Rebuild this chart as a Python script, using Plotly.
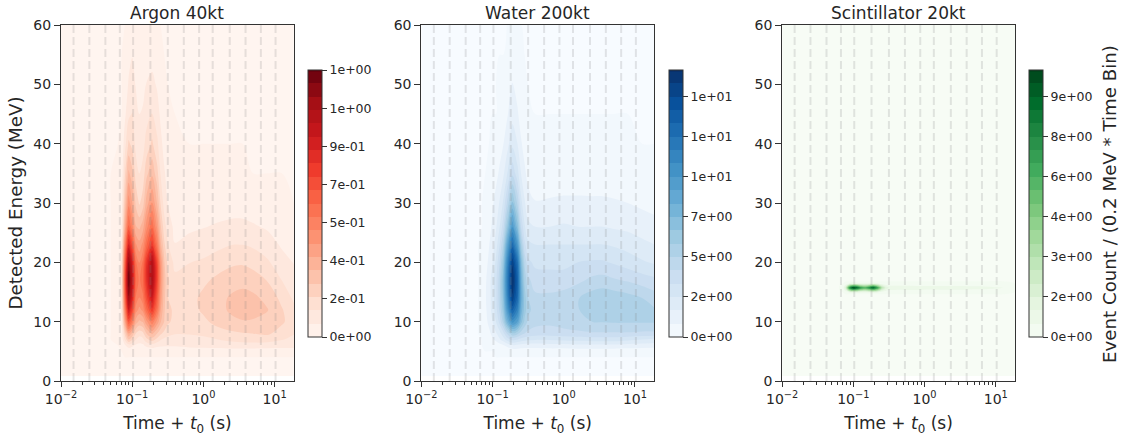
import plotly.graph_objects as go

time_s = [0.01, 0.05, 0.063, 0.071, 0.079, 0.089, 0.1, 0.112, 0.126, 0.141, 0.158, 0.19, 0.224, 0.251, 0.282, 0.316,
          0.398, 0.631, 1.0, 1.58, 2.51, 3.55, 5.0, 7.94, 12.6, 18.6]
bin_edges = [0.015, 0.025, 0.042, 0.067, 0.103, 0.18, 0.316, 0.53, 0.87, 1.35, 2.34, 3.9, 6.4, 10.3]

energy_main = [0.8, 4, 5, 6, 7, 8, 10, 12, 14, 17, 20, 23, 26, 30, 35, 40, 45, 50, 55, 60]
energy_scint = [0.8, 14.6, 15, 15.4, 15.7, 16, 16.4, 16.8, 60]

argon = [
    [0] * 26,
    [0] * 26,
    [0, 0, 0, 0, .005, .01, .01, .01, .01, .01, .01, .015, .015, .015, .02, .02, .025, .03, .03, .03, .03, .03, .03, .03, .03, .03],
    [0, 0, 0, .01, .055, .1, .08, .05, .04, .05, .08, .1, .08, .075, .07, .07, .07, .08, .085, .09, .1, .1, .1, .095, .09, .09],
    [0, 0, .002, .02, .14, .25, .2, .13, .1, .11, .17, .22, .17, .13, .11, .1, .1, .105, .11, .125, .14, .15, .155, .155, .13, .11],
    [0, 0, .004, .03, .21, .38, .3, .19, .15, .17, .25, .33, .25, .2, .17, .15, .13, .13, .14, .16, .175, .185, .19, .2, .16, .13],
    [0, 0, .007, .055, .38, .7, .56, .35, .3, .32, .42, .55, .42, .32, .25, .2, .17, .15, .175, .21, .24, .248, .245, .235, .2, .155],
    [0, 0, .01, .075, .52, .95, .76, .48, .42, .46, .61, .8, .58, .38, .26, .2, .18, .165, .2, .235, .262, .275, .275, .255, .195, .14],
    [0, 0, .01, .09, .62, 1.12, .9, .56, .5, .55, .72, .95, .67, .42, .27, .19, .17, .165, .205, .235, .26, .27, .265, .235, .17, .115],
    [0, 0, .012, .1, .69, 1.25, 1.0, .63, .55, .62, .82, 1.08, .76, .46, .28, .2, .14, .14, .175, .205, .23, .235, .22, .185, .125, .085],
    [0, 0, .01, .09, .63, 1.15, .92, .58, .5, .58, .8, 1.05, .74, .44, .26, .17, .11, .125, .135, .155, .175, .18, .165, .135, .085, .06],
    [0, 0, .008, .07, .5, .9, .72, .45, .4, .46, .61, .8, .56, .33, .2, .13, .065, .085, .095, .11, .125, .125, .115, .09, .055, .04],
    [0, 0, .005, .05, .36, .65, .52, .32, .3, .35, .47, .62, .43, .26, .15, .1, .045, .05, .06, .07, .08, .08, .07, .055, .03, .02],
    [0, 0, .003, .035, .26, .48, .38, .24, .18, .22, .34, .45, .31, .18, .1, .06, .02, .02, .025, .03, .03, .03, .025, .02, .005, 0],
    [0, 0, .002, .02, .18, .33, .27, .16, .126, .15, .23, .3, .21, .12, .07, .04, .01, .005, .005, .005, .005, .005, 0, 0, 0, 0],
    [0, 0, 0, .01, .1, .2, .17, .11, .09, .1, .15, .2, .14, .08, .04, .02, .005, 0, 0, 0, 0, 0, 0, 0, 0, 0],
    [0, 0, 0, 0, .05, .11, .13, .085, .063, .07, .1, .13, .09, .05, .02, .01, 0, 0, 0, 0, 0, 0, 0, 0, 0, 0],
    [0, 0, 0, 0, .02, .07, .09, .06, .04, .045, .065, .08, .055, .02, .005, 0, 0, 0, 0, 0, 0, 0, 0, 0, 0, 0],
    [0, 0, 0, 0, .005, .04, .06, .035, .02, .02, .03, .04, .02, .005, 0, 0, 0, 0, 0, 0, 0, 0, 0, 0, 0, 0],
    [0, 0, 0, 0, 0, .01, .02, .01, .005, .005, .01, .01, .005, 0, 0, 0, 0, 0, 0, 0, 0, 0, 0, 0, 0, 0],
]

water = [
    [0] * 26,
    [0] * 26,
    [0, 0, 0, 0, 0, 0, 0, .01, .03, .06, .12, .3, .3, .3, .3, .3, .3, .3, .3, .3, .3, .3, .3, .25, .2, .2],
    [0, 0, 0, 0, .02, .1, .2, .3, .5, .7, 1.0, 1.5, 1.4, 1.3, 1.2, 1.2, 1.2, 1.3, 1.3, 1.4, 1.4, 1.4, 1.4, 1.3, 1.25, 1.2],
    [0, 0, 0, 0, .15, .4, .7, 1, 1.5, 2, 2.7, 3.5, 3.2, 2.9, 2.7, 2.6, 2.5, 2.5, 2.6, 2.7, 2.8, 2.8, 2.8, 2.6, 2.4, 2.2],
    [0, 0, 0, .02, .3, .6, 1, 1.5, 2.1, 2.9, 4, 5.5, 5, 4.4, 4, 3.8, 3.6, 3.6, 3.7, 3.8, 3.9, 3.9, 3.9, 3.9, 3.8, 3.8],
    [0, 0, 0, .05, .5, 1, 1.6, 2.4, 3.5, 5, 7.2, 10, 8.8, 6.8, 5.4, 4.6, 4.3, 4.2, 4.4, 4.6, 4.8, 4.85, 4.9, 4.9, 4.9, 4.9],
    [0, 0, 0, .08, .6, 1.2, 1.9, 2.9, 4.2, 6, 9, 13, 11, 7.8, 6, 5, 4.5, 4.4, 4.6, 4.75, 5.2, 5.4, 5.4, 5.4, 5.2, 4.9],
    [0, 0, 0, .1, .7, 1.2, 2, 3, 4.5, 6.5, 10, 15, 12.5, 8.3, 6, 4.8, 4.2, 4.2, 4.4, 4.75, 5.2, 5.4, 5.3, 5.1, 4.8, 4.4],
    [0, 0, 0, .1, .65, 1.2, 2, 3, 4.5, 6.8, 10.5, 16, 13, 8, 5.4, 4.2, 3.6, 3.5, 3.5, 3.8, 4.2, 4.3, 4.1, 3.9, 3.6, 3.4],
    [0, 0, 0, .05, .5, .95, 1.6, 2.6, 4, 6, 9.8, 15, 12, 7.2, 4.6, 3.4, 3, 3, 3, 3.2, 3.3, 3.3, 3.1, 2.8, 2.5, 2.3],
    [0, 0, 0, .02, .35, .75, 1.2, 2, 3.2, 4.8, 8, 12.4, 9.4, 5.6, 3.4, 2.6, 2.4, 2.4, 2.4, 2.4, 2.4, 2.4, 2.3, 2.1, 1.8, 1.6],
    [0, 0, 0, 0, .2, .5, .95, 1.5, 2.4, 3.6, 5.8, 9.5, 6.8, 4, 2.5, 1.8, 1.6, 1.6, 1.7, 1.6, 1.6, 1.6, 1.5, 1.4, 1.2, 1.1],
    [0, 0, 0, 0, .05, .25, .7, 1.1, 1.7, 2.5, 3.9, 6.5, 4.6, 2.7, 1.7, 1.1, .85, .9, .95, .95, .95, .95, .9, .8, .65, .5],
    [0, 0, 0, 0, 0, .05, .25, .55, .95, 1.4, 2.2, 3.8, 2.7, 1.6, .95, .55, .3, .3, .35, .35, .3, .3, .25, .2, .15, .1],
    [0, 0, 0, 0, 0, 0, .05, .2, .45, .75, 1.2, 2.2, 1.6, .9, .5, .25, .1, .05, .05, .05, .05, .05, .02, .02, 0, 0],
    [0, 0, 0, 0, 0, 0, 0, 0, .15, .35, .65, 1.3, .9, .45, .2, .1, 0, 0, 0, 0, 0, 0, 0, 0, 0, 0],
    [0, 0, 0, 0, 0, 0, 0, 0, .02, .1, .35, .85, .5, .2, .05, 0, 0, 0, 0, 0, 0, 0, 0, 0, 0, 0],
    [0, 0, 0, 0, 0, 0, 0, 0, 0, 0, .05, .35, .15, .03, 0, 0, 0, 0, 0, 0, 0, 0, 0, 0, 0, 0],
    [0, 0, 0, 0, 0, 0, 0, 0, 0, 0, 0, .05, 0, 0, 0, 0, 0, 0, 0, 0, 0, 0, 0, 0, 0, 0],
]

scint = [
    [0] * 26,
    [0] * 26,
    [0, 0, 0, 0, .2, .75, 1, .9, .7, .6, .65, .9, .6, .3, .15, .1, .09, .09, .085, .08, .08, .08, .075, .07, .05, 0],
    [0, 0, 0, .03, 1.2, 4.5, 6, 5.4, 4.2, 3.6, 3.9, 5.4, 3.6, 1.8, .9, .6, .55, .55, .5, .5, .5, .5, .45, .4, .3, 0],
    [0, 0, 0, .05, 2, 7.5, 10, 9, 7, 6, 6.5, 9, 6, 3, 1.5, 1, .9, .9, .85, .8, .8, .8, .75, .7, .5, 0],
    [0, 0, 0, .03, 1.2, 4.5, 6, 5.4, 4.2, 3.6, 3.9, 5.4, 3.6, 1.8, .9, .6, .55, .55, .5, .5, .5, .5, .45, .4, .3, 0],
    [0, 0, 0, 0, .2, .75, 1, .9, .7, .6, .65, .9, .6, .3, .15, .1, .09, .09, .085, .08, .08, .08, .075, .07, .05, 0],
    [0] * 26,
    [0] * 26,
]

titles = ["Argon 40kt", "Water 200kt", "Scintillator 20kt"]
cbar_vals = [
    [0, .18, .36, .54, .72, .9, 1.08, 1.26],
    [0, 2.4, 4.8, 7.2, 9.6, 12, 14.4],
    [0, 1.5, 3, 4.5, 6, 7.5, 9],
]
cbar_text = [
    ["0e+00", "2e-01", "4e-01", "5e-01", "7e-01", "9e-01", "1e+00", "1e+00"],
    ["0e+00", "2e+00", "5e+00", "7e+00", "1e+01", "1e+01", "1e+01"],
    ["0e+00", "2e+00", "3e+00", "4e+00", "6e+00", "8e+00", "9e+00"],
]
level_top = [1.26, 16.0, 10.0]
palettes = [
    ["#fff5f0", "#fee0d2", "#fcbba1", "#fc9272", "#fb6a4a", "#ef3b2c", "#cb181d", "#a50f15", "#67000d"],
    ["#f7fbff", "#deebf7", "#c6dbef", "#9ecae1", "#6baed6", "#4292c6", "#2171b5", "#08519c", "#08306b"],
    ["#f7fcf5", "#e5f5e0", "#c7e9c0", "#a1d99b", "#74c476", "#41ab5d", "#238b45", "#006d2c", "#00441b"],
]

W, H = 1122, 438
M_L, M_R, M_T, M_B = 61, 106.5, 25, 57
PW, PH = W - M_L - M_R, H - M_T - M_B
AX_L = [61, 421.5, 782.5]
AX_W = 233
CB_L = [308, 669.5, 1030]
CB_T, CB_B = 70, 337
FONT = "DejaVu Sans"
TXT = "#262626"
LINE = "#333333"


def fx(px):
    return (px - M_L) / PW


def fy(py):
    return 1 - (py - M_T) / PH


decades = [0.01, 0.1, 1, 10]
minor = [m * d for d in decades for m in range(2, 10) if m * d <= 18.6]

fig = go.Figure()
grids = [(energy_main, argon), (energy_main, water), (energy_scint, scint)]
for i, (energy, z) in enumerate(grids):
    n = i + 1
    xa, ya = f"x{n}" if n > 1 else "x", f"y{n}" if n > 1 else "y"
    scale = [[k / 8, c] for k, c in enumerate(palettes[i])]
    fig.add_trace(go.Contour(
        x=time_s, y=energy, z=z, xaxis=xa, yaxis=ya,
        autocontour=False, zmin=0, zmax=level_top[i],
        contours=dict(start=0, end=level_top[i], size=level_top[i] / 20, coloring="fill", showlines=False),
        line=dict(width=0, smoothing=1),
        colorscale=scale,
        colorbar=dict(
            x=fx(CB_L[i]), xanchor="left", xpad=0, ypad=0,
            y=fy((CB_T + CB_B) / 2), yanchor="middle",
            len=(CB_B - CB_T) / PH, lenmode="fraction",
            thickness=14, thicknessmode="pixels",
            outlinewidth=1, outlinecolor=LINE,
            tickmode="array", tickvals=cbar_vals[i], ticktext=cbar_text[i],
            ticks="outside", ticklen=5, tickwidth=1, tickcolor=LINE,
            tickfont=dict(family=FONT, size=12.5, color=TXT),
        ),
        hoverinfo="skip",
    ))
    xs, ys = [], []
    for b in bin_edges:
        xs += [b, b, None]
        ys += [0, 60, None]
    fig.add_trace(go.Scatter(
        x=xs, y=ys, xaxis=xa, yaxis=ya, mode="lines", showlegend=False, hoverinfo="skip",
        line=dict(color="rgba(128,128,128,0.2)", width=2, dash="8px,4px"),
    ))
    yaxis_title = dict(text="Detected Energy (MeV)", font=dict(family=FONT, size=18.3, color=TXT), standoff=5) if i == 0 else None
    fig.update_layout({
        f"xaxis{n if n > 1 else ''}": dict(
            domain=[fx(AX_L[i]), fx(AX_L[i] + AX_W)], type="log", range=[-2, 1.27], anchor=ya, automargin=False,
            tickmode="array", tickvals=decades,
            ticktext=["10<sup>\u22122</sup>", "10<sup>\u22121</sup>", "10<sup>0</sup>", "10<sup>1</sup>"],
            ticks="outside", ticklen=5, tickwidth=1, tickcolor=LINE,
            minor=dict(tickmode="array", tickvals=minor, ticks="outside", ticklen=2.5, tickwidth=0.8, tickcolor=LINE, showgrid=False),
            showgrid=False, zeroline=False, showline=True, linecolor=LINE, linewidth=1, mirror=True,
            tickfont=dict(family=FONT, size=14, color=TXT),
            title=dict(text="Time + <i>t</i><sub>0</sub> (s)", font=dict(family=FONT, size=17, color=TXT), standoff=11),
        ),
        f"yaxis{n if n > 1 else ''}": dict(
            domain=[0, 1], range=[0, 60], anchor=xa, automargin=False,
            tickmode="array", tickvals=[0, 10, 20, 30, 40, 50, 60],
            ticks="outside", ticklen=6, tickwidth=1, tickcolor=LINE,
            showgrid=False, zeroline=False, showline=True, linecolor=LINE, linewidth=1, mirror=True,
            tickfont=dict(family=FONT, size=14, color=TXT),
            title=yaxis_title,
        ),
    })
    fig.add_annotation(
        text=titles[i], xref="paper", yref="paper", showarrow=False,
        x=fx(AX_L[i] + AX_W / 2), y=fy(12.5), xanchor="center", yanchor="middle",
        font=dict(family=FONT, size=17, color=TXT),
    )

fig.add_annotation(
    text="Event Count / (0.2 MeV * Time Bin)", xref="paper", yref="paper", showarrow=False, textangle=-90,
    x=fx(1110), y=fy(203.5), xanchor="center", yanchor="middle",
    font=dict(family=FONT, size=18.2, color=TXT),
)
fig.update_layout(template="none", width=W, height=H, margin=dict(l=M_L, r=M_R, t=M_T, b=M_B, pad=0),
                  paper_bgcolor="white", plot_bgcolor="white", showlegend=False)
fig.write_html("out.html", config={"displayModeBar": False}, post_script="document.body.style.margin='0';document.documentElement.style.overflow='hidden';")
